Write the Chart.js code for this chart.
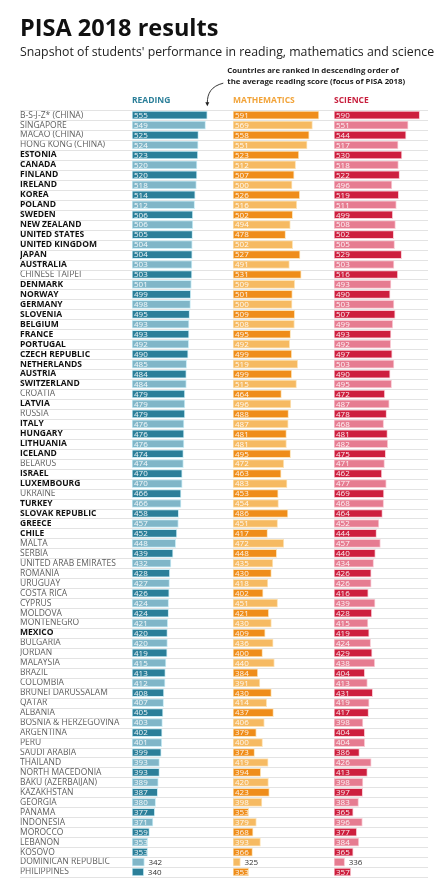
<!DOCTYPE html>
<html>
<head>
<meta charset="utf-8">
<script src="https://cdn.jsdelivr.net/npm/chart.js@4.4.1/dist/chart.umd.min.js"></script>
<style>
  body { margin: 0; background: #fff; }
  #wrap { width: 444px; height: 885px; position: relative; }
</style>
</head>
<body>
<div id="wrap"><canvas id="pisaChart"></canvas></div>
<script>
var countries = ['B-S-J-Z* (CHINA)', 'SINGAPORE', 'MACAO (CHINA)', 'HONG KONG (CHINA)', 'ESTONIA', 'CANADA', 'FINLAND', 'IRELAND', 'KOREA', 'POLAND',
  'SWEDEN', 'NEW ZEALAND', 'UNITED STATES', 'UNITED KINGDOM', 'JAPAN', 'AUSTRALIA', 'CHINESE TAIPEI', 'DENMARK', 'NORWAY', 'GERMANY',
  'SLOVENIA', 'BELGIUM', 'FRANCE', 'PORTUGAL', 'CZECH REPUBLIC', 'NETHERLANDS', 'AUSTRIA', 'SWITZERLAND', 'CROATIA', 'LATVIA',
  'RUSSIA', 'ITALY', 'HUNGARY', 'LITHUANIA', 'ICELAND', 'BELARUS', 'ISRAEL', 'LUXEMBOURG', 'UKRAINE', 'TURKEY',
  'SLOVAK REPUBLIC', 'GREECE', 'CHILE', 'MALTA', 'SERBIA', 'UNITED ARAB EMIRATES', 'ROMANIA', 'URUGUAY', 'COSTA RICA', 'CYPRUS',
  'MOLDOVA', 'MONTENEGRO', 'MEXICO', 'BULGARIA', 'JORDAN', 'MALAYSIA', 'BRAZIL', 'COLOMBIA', 'BRUNEI DARUSSALAM', 'QATAR',
  'ALBANIA', 'BOSNIA & HERZEGOVINA', 'ARGENTINA', 'PERU', 'SAUDI ARABIA', 'THAILAND', 'NORTH MACEDONIA', 'BAKU (AZERBAIJAN)', 'KAZAKHSTAN', 'GEORGIA',
  'PANAMA', 'INDONESIA', 'MOROCCO', 'LEBANON', 'KOSOVO', 'DOMINICAN REPUBLIC', 'PHILIPPINES'];

var reading = [555, 549, 525, 524, 523, 520, 520, 518, 514, 512,
  506, 506, 505, 504, 504, 503, 503, 501, 499, 498,
  495, 493, 493, 492, 490, 485, 484, 484, 479, 479,
  479, 476, 476, 476, 474, 474, 470, 470, 466, 466,
  458, 457, 452, 448, 439, 432, 428, 427, 426, 424,
  424, 421, 420, 420, 419, 415, 413, 412, 408, 407,
  405, 403, 402, 401, 399, 393, 393, 389, 387, 380,
  377, 371, 359, 353, 353, 342, 340];

var maths = [591, 569, 558, 551, 523, 512, 507, 500, 526, 516,
  502, 494, 478, 502, 527, 491, 531, 509, 501, 500,
  509, 508, 495, 492, 499, 519, 499, 515, 464, 496,
  488, 487, 481, 481, 495, 472, 463, 483, 453, 454,
  486, 451, 417, 472, 448, 435, 430, 418, 402, 451,
  421, 430, 409, 436, 400, 440, 384, 391, 430, 414,
  437, 406, 379, 400, 373, 419, 394, 420, 423, 398,
  353, 379, 368, 393, 366, 325, 353];

var science = [590, 551, 544, 517, 530, 518, 522, 496, 519, 511,
  499, 508, 502, 505, 529, 503, 516, 493, 490, 503,
  507, 499, 493, 492, 497, 503, 490, 495, 472, 487,
  478, 468, 481, 482, 475, 471, 462, 477, 469, 468,
  464, 452, 444, 457, 440, 434, 426, 426, 416, 439,
  428, 415, 419, 424, 429, 438, 404, 413, 431, 419,
  417, 398, 404, 404, 386, 426, 413, 398, 397, 383,
  365, 396, 377, 384, 365, 336, 357];

// 1 = OECD member (bold label), 0 = partner economy (grey label)
var oecd = [0, 0, 0, 0, 1, 1, 1, 1, 1, 1,
  1, 1, 1, 1, 1, 1, 0, 1, 1, 1,
  1, 1, 1, 1, 1, 1, 1, 1, 0, 1,
  0, 1, 1, 1, 1, 0, 1, 1, 0, 1,
  1, 1, 1, 0, 0, 0, 0, 0, 0, 0,
  0, 0, 1, 0, 0, 0, 0, 0, 0, 0,
  0, 0, 0, 0, 0, 0, 0, 0, 0, 0,
  0, 0, 0, 0, 0, 0, 0];

var subjects = ['READING', 'MATHEMATICS', 'SCIENCE'];
var headColors = ['#2b7f99', '#f2a43a', '#c8203e'];
var darkColors = ['#2b7f99', '#ef8d1a', '#cd1f3e'];
var lightColors = ['#80b6c8', '#f6ba62', '#e67c91'];
var haloColors = ['#cbedf6', '#fde4b8', '#f9ccd5'];

var FONT = "'Open Sans', 'DejaVu Sans', sans-serif";
var AXIS_MIN = 300;

function shade(k) {
  return function(c) { return c.dataIndex % 2 === 0 ? darkColors[k] : lightColors[k]; };
}

function makeDataset(k, values, axisId) {
  return {
    label: subjects[k],
    data: values,
    xAxisID: axisId,
    base: AXIS_MIN,
    grouped: false,
    barThickness: 8,
    backgroundColor: shade(k),
    borderColor: haloColors[k],
    borderWidth: 1,
    borderSkipped: false
  };
}

function makeAxis(k) {
  return {
    type: 'linear',
    position: 'top',
    stack: 'subjects',
    weight: 3 - k, // top boxes are laid out by descending weight, so READING ends up first
    min: AXIS_MIN,
    max: 642,
    grid: { display: false, drawTicks: false },
    border: { display: false },
    ticks: { display: false },
    title: {
      display: true,
      text: subjects[k],
      align: 'start',
      color: headColors[k],
      font: { family: FONT, size: 8.5, weight: 'bold' },
      padding: { top: 36, bottom: 4 }
    }
  };
}

// thin separators between the rows, running under the country names too
var rowLines = {
  id: 'rowLines',
  beforeDatasetsDraw: function(chart) {
    var ctx = chart.ctx, y = chart.scales.y;
    ctx.save();
    ctx.strokeStyle = '#dcdcdc';
    ctx.lineWidth = 0.8;
    for (var i = 0; i <= countries.length; i++) {
      var py = Math.round(y.getPixelForValue(i - 0.5)) + 0.5;
      ctx.beginPath();
      ctx.moveTo(20, py);
      ctx.lineTo(428, py);
      ctx.stroke();
    }
    ctx.restore();
  }
};

// score written at the start of each bar, or after it when the bar is short
var valueLabels = {
  id: 'valueLabels',
  afterDatasetsDraw: function(chart) {
    var ctx = chart.ctx;
    ctx.save();
    ctx.font = '8px ' + FONT;
    ctx.textBaseline = 'middle';
    ctx.textAlign = 'left';
    chart.data.datasets.forEach(function(ds, di) {
      chart.getDatasetMeta(di).data.forEach(function(bar, i) {
        var v = ds.data[i];
        if (v < 350) {
          ctx.fillStyle = '#333';
          ctx.fillText(v, bar.x + 4, bar.y + 0.5);
        } else {
          ctx.fillStyle = 'rgba(255,255,255,0.92)';
          ctx.fillText(v, bar.base + 2, bar.y + 0.5);
        }
      });
    });
    ctx.restore();
  }
};

// note about the ranking, with its curved arrow
var rankNote = {
  id: 'rankNote',
  afterDraw: function(chart) {
    var ctx = chart.ctx, area = chart.chartArea;
    var tipX = chart.scales.xR.getPixelForValue(reading[0]);
    var tipY = area.top - 4;
    ctx.save();
    ctx.fillStyle = '#222';
    ctx.font = 'bold 7.8px ' + FONT;
    ctx.textBaseline = 'middle';
    ctx.fillText('Countries are ranked in descending order of', tipX + 20, area.top - 39);
    ctx.fillText('the average reading score (focus of PISA 2018)', tipX + 20, area.top - 28);
    ctx.strokeStyle = '#222';
    ctx.lineWidth = 0.9;
    ctx.beginPath();
    ctx.moveTo(tipX + 16, area.top - 27);
    ctx.bezierCurveTo(tipX + 4, area.top - 24, tipX, area.top - 17, tipX, tipY - 3);
    ctx.stroke();
    ctx.beginPath();
    ctx.moveTo(tipX - 2, tipY - 4);
    ctx.lineTo(tipX + 2, tipY - 4);
    ctx.lineTo(tipX, tipY);
    ctx.closePath();
    ctx.fill();
    ctx.restore();
  }
};

var ctx = document.getElementById('pisaChart').getContext('2d');
new Chart(ctx, {
  type: 'bar',
  data: {
    labels: countries,
    datasets: [
      makeDataset(0, reading, 'xR'),
      makeDataset(1, maths, 'xM'),
      makeDataset(2, science, 'xS')
    ]
  },
  options: {
    indexAxis: 'y',
    responsive: true,
    maintainAspectRatio: false,
    animation: false,
    layout: { padding: { left: 20, right: 9, top: 0, bottom: 8 } },
    plugins: {
      legend: { display: false },
      tooltip: { enabled: false },
      title: {
        display: true,
        text: 'PISA 2018 results',
        align: 'start',
        color: '#111',
        font: { family: FONT, size: 23.5, weight: 'bold' },
        padding: { top: 15, bottom: 1 }
      },
      subtitle: {
        display: true,
        text: "Snapshot of students' performance in reading, mathematics and science",
        align: 'start',
        color: '#222',
        font: { family: FONT, size: 12.3 },
        padding: { top: 1, bottom: 0 }
      }
    },
    scales: {
      y: {
        grid: { display: false, drawTicks: false },
        border: { display: false },
        ticks: {
          autoSkip: false,
          crossAlign: 'far',
          padding: 0,
          color: function(c) { return oecd[c.index] ? '#111' : '#5e5e5e'; },
          font: function(c) {
            return { family: FONT, size: 8.5, weight: oecd[c.index] ? 'bold' : 'normal' };
          }
        },
        afterFit: function(scale) { scale.width = 112; }
      },
      xR: makeAxis(0),
      xM: makeAxis(1),
      xS: makeAxis(2)
    }
  },
  plugins: [rowLines, valueLabels, rankNote]
});
</script>
</body>
</html>
